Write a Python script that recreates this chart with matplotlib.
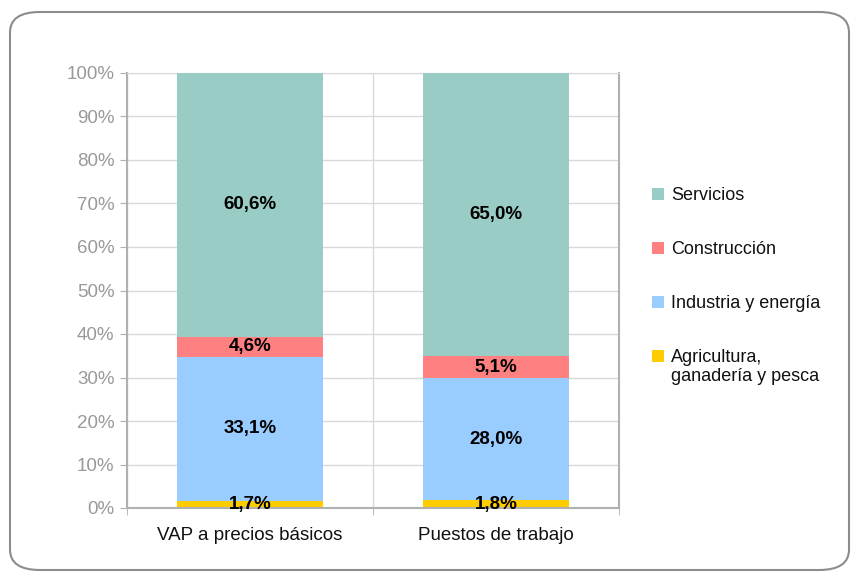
import matplotlib
matplotlib.use("Agg")
import matplotlib.pyplot as plt
from matplotlib.patches import FancyBboxPatch, Rectangle
import numpy as np

plt.rcParams['font.family'] = ['Liberation Sans', 'DejaVu Sans']

categories = ["VAP a precios básicos", "Puestos de trabajo"]
series_names = ["Agricultura,\nganadería y pesca", "Industria y energía", "Construcción", "Servicios"]
agricultura = [1.7, 1.8]
industria = [33.1, 28.0]
construccion = [4.6, 5.1]
servicios = [60.6, 65.0]
colors = ["#FFCC00", "#99CCFF", "#FF8080", "#99CCC4"]
yticks = [0, 10, 20, 30, 40, 50, 60, 70, 80, 90, 100]

W, H = 859, 582
fig = plt.figure(figsize=(W/100, H/100), dpi=100)

# rounded outer border
border = FancyBboxPatch((10/W, 12/H), (849-10)/W, (570-12)/H,
                        boxstyle="round,pad=0,rounding_size=0.035",
                        transform=fig.transFigure, fill=False,
                        edgecolor="#8c8c8c", linewidth=1.5)
fig.patches.append(border)

ax = fig.add_axes([127/W, 1-508/H, (619-127)/W, (508-73)/H])
x = np.arange(len(categories))
series = [agricultura, industria, construccion, servicios]
bottom = np.zeros(len(categories))
for vals, col in zip(series, colors):
    vals = np.array(vals)
    ax.bar(x, vals, bottom=bottom, width=0.59, color=col, zorder=3)
    for xi, b, v in zip(x, bottom, vals):
        ax.text(xi, b + v/2, f"{v:.1f}%".replace(".", ","), ha="center", va="center",
                fontsize=13.5, fontweight="bold", color="black", zorder=6)
    bottom += vals

ax.set_xlim(-0.5, 1.5)
ax.set_ylim(0, 100)
ax.set_yticks(yticks)
ax.set_yticklabels([f"{t}%" for t in yticks], color="#999999", fontsize=13.5)
ax.set_xticks(x)
ax.set_xticklabels(categories, fontsize=13.5, color="#111111")
ax.tick_params(axis="x", length=0, pad=14)
ax.tick_params(axis="y", length=5, color="#b0b0b0", pad=4, direction="out")
ax.set_xticks([-0.5, 0.5, 1.5], minor=True)
ax.tick_params(axis="x", which="minor", length=5, color="#b0b0b0")
ax.grid(axis="y", color="#d9d9d9", linewidth=1, zorder=0)
ax.grid(axis="x", which="minor", color="#d9d9d9", linewidth=1, zorder=0)
ax.grid(axis="x", which="major", visible=False)
for s in ["left", "bottom"]:
    ax.spines[s].set_color("#b0b0b0")
    ax.spines[s].set_linewidth(1.5)
ax.spines["top"].set_color("#d9d9d9")
ax.spines["right"].set_color("#b0b0b0")
ax.spines["right"].set_linewidth(1.5)
ax.spines["bottom"].set_zorder(5)

# legend (manual, reversed order)
leg_y = [193, 247, 301, 355]
for name, col, yy in zip(series_names[::-1], colors[::-1], leg_y):
    fig.patches.append(Rectangle((652/W, 1-(yy+7)/H), 12/W, 12/H,
                                 transform=fig.transFigure, facecolor=col,
                                 edgecolor="none"))
    fig.text(671/W, 1-(yy-6)/H, name, ha="left", va="top", fontsize=13,
             color="#111111", linespacing=1.15)

fig.savefig("out.png", dpi=100)
